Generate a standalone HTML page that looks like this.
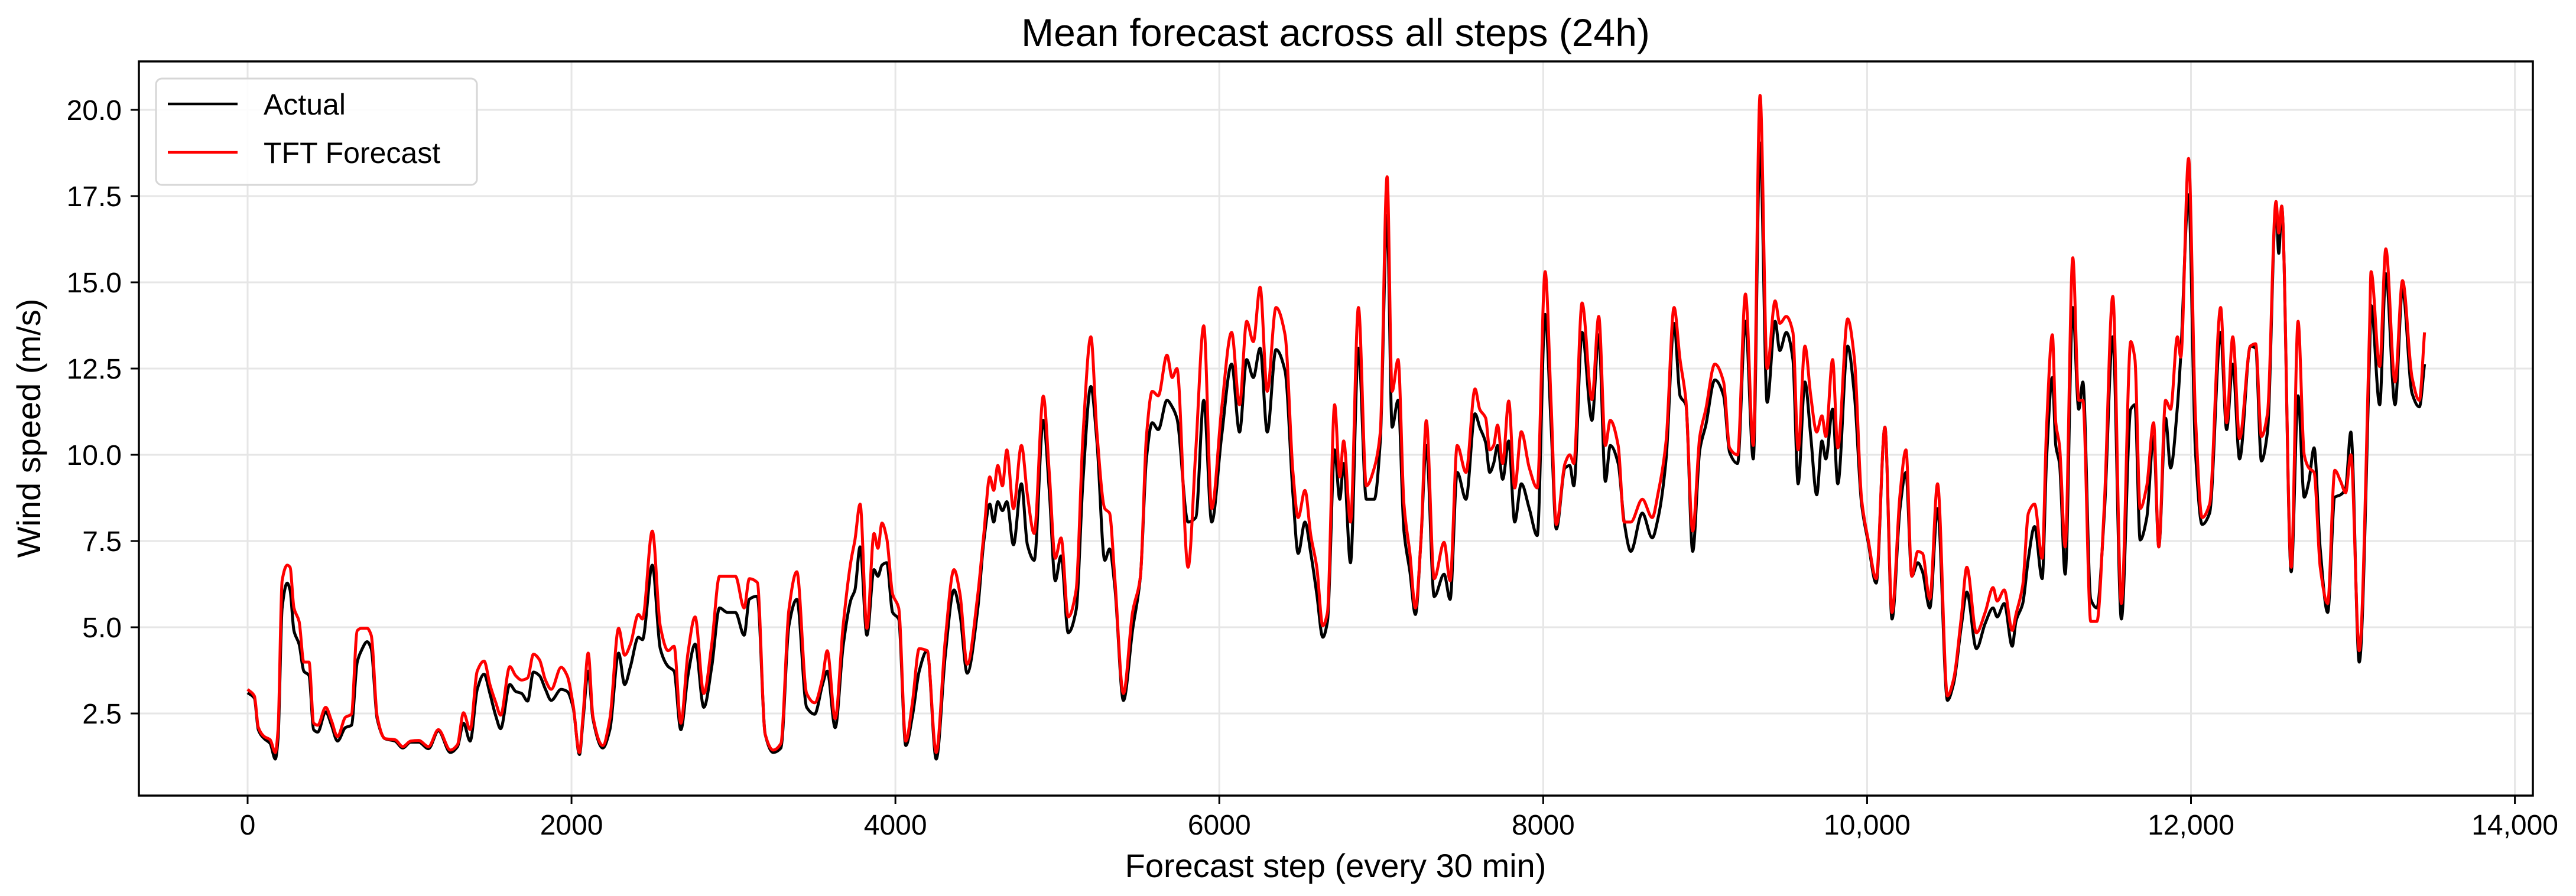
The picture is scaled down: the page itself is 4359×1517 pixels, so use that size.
<!DOCTYPE html>
<html><head><meta charset="utf-8"><style>
html,body{margin:0;padding:0;background:#fff;}
svg{display:block;font-family:"Liberation Sans",Arial,sans-serif;}
</style></head><body>
<svg id="chart" width="4359" height="1517" viewBox="0 0 4359 1517" xmlns="http://www.w3.org/2000/svg">
<rect x="0" y="0" width="4359" height="1517" fill="#fff"/>
<text x="2260" y="78" font-size="66" text-anchor="middle" fill="#000">Mean forecast across all steps (24h)</text>
<g id="grid"></g>
<g id="series"></g>
<rect x="235" y="104" width="4051" height="1243" fill="none" stroke="#000" stroke-width="3.5"/>
<g id="ticks"></g>
<text x="2260" y="1485" font-size="56" text-anchor="middle" fill="#000">Forecast step (every 30 min)</text>
<text x="0" y="0" font-size="56" text-anchor="middle" fill="#000" transform="translate(68,725) rotate(-90)">Wind speed (m/s)</text>
<g>
<rect x="264" y="133" width="543" height="180" rx="10" fill="#fff" fill-opacity="0.85" stroke="#d6d6d6" stroke-width="3"/>
<line x1="284" y1="176" x2="402" y2="176" stroke="#000" stroke-width="4.5"/>
<text x="446" y="194" font-size="50" fill="#000">Actual</text>
<line x1="284" y1="258" x2="402" y2="258" stroke="#ff0000" stroke-width="4.5"/>
<text x="446" y="276" font-size="50" fill="#000">TFT Forecast</text>
</g>
</svg>
<script>
const steps = [0,42,66,103,139,171,188,213,245,262,286,318,347,379,408,433,482,518,555,604,641,677,702,738,763,800,848,910,958,1007,1056,1117,1178,1252,1296,1333,1374,1418,1460,1496,1533,1562,1619,1655,1692,1729,1765,1802,1839,1875,1936,1973,2010,2049,2071,2103,2132,2193,2237,2291,2328,2364,2413,2438,2499,2548,2597,2633,2675,2719,2763,2817,2866,2914,2963,3012,3066,3098,3147,3196,3245,3293,3342,3391,3452,3501,3550,3579,3628,3677,3726,3750,3782,3824,3868,3892,3917,3946,3983,4020,4064,4105,4147,4196,4252,4308,4362,4399,4443,4509,4546,4583,4607,4632,4661,4688,4729,4778,4815,4857,4913,4950,4987,5023,5067,5116,5158,5207,5244,5293,5322,5354,5408,5464,5513,5550,5586,5623,5677,5709,5738,5807,5855,5904,5953,6014,6076,6125,6169,6210,6252,6296,6350,6406,6455,6487,6529,6565,6602,6639,6668,6712,6744,6768,6810,6859,6908,6957,6994,7036,7067,7104,7140,7177,7211,7245,7278,7327,7388,7425,7469,7523,7579,7608,7645,7670,7694,7718,7750,7787,7824,7865,7914,7963,8012,8049,8081,8135,8164,8189,8240,8301,8343,8384,8414,8463,8500,8541,8612,8673,8710,8759,8808,8845,8881,8923,8967,9004,9060,9114,9151,9200,9249,9297,9339,9383,9432,9461,9501,9542,9574,9616,9652,9689,9721,9745,9787,9819,9880,9922,9966,10007,10056,10110,10154,10203,10240,10276,10313,10342,10387,10435,10496,10533,10582,10616,10675,10729,10778,10803,10847,10896,10919,10961,10996,11034,11081,11108,11144,11165,11188,11223,11270,11307,11332,11381,11419,11465,11517,11570,11628,11654,11686,11727,11769,11801,11843,11874,11916,11937,11985,12027,12069,12115,12183,12220,12258,12300,12367,12399,12435,12472,12525,12542,12560,12619,12661,12699,12728,12760,12798,12844,12888,12924,12955,12987,13039,13102,13112,13165,13203,13260,13306,13365,13410,13442];
const actual = [3.10,2.94,2.03,1.77,1.63,1.18,1.77,5.56,6.28,6.08,4.9,4.51,3.73,3.6,2.03,1.96,2.55,2.16,1.70,2.09,2.16,3.99,4.32,4.58,4.38,2.35,1.77,1.70,1.5,1.67,1.67,1.48,2.0,1.37,1.54,2.22,1.70,3.2,3.64,3.08,2.42,2.06,3.34,3.14,3.08,2.86,3.70,3.6,3.2,2.88,3.2,3.14,2.68,1.31,2.29,3.73,2.35,1.5,2.03,4.25,3.34,3.86,4.71,4.64,6.8,4.38,3.86,3.73,2.03,3.6,4.51,2.68,3.86,5.56,5.43,5.43,4.77,5.81,5.9,1.9,1.37,1.5,5.04,5.81,2.68,2.48,3.34,3.73,2.09,4.45,5.81,6.08,7.33,4.77,6.67,6.48,6.8,6.87,5.43,5.24,1.57,2.42,3.73,4.32,1.18,4.19,6.08,5.37,3.67,5.56,7.5,8.57,8.05,8.64,8.38,8.64,7.39,9.16,7.39,6.94,11.0,8.97,6.35,7.07,4.84,5.50,9.23,11.98,10.4,6.94,7.27,6.22,2.88,4.91,6.48,9.88,10.93,10.73,11.58,11.39,11.06,8.05,8.18,11.58,8.05,10.53,12.63,10.66,12.76,12.24,13.09,10.66,13.05,12.43,8.84,7.14,8.05,7.14,5.96,4.71,5.17,10.14,8.71,9.75,6.87,13.09,8.71,8.71,10.4,16.95,10.8,11.58,7.79,6.61,5.37,7.5,10.27,5.89,6.54,5.81,9.49,8.71,11.19,10.8,10.34,9.49,9.75,10.27,9.29,10.4,8.05,9.16,8.44,7.66,14.07,10.8,7.85,9.62,9.69,9.1,13.55,11.0,13.48,9.23,10.27,9.75,8.05,7.2,8.31,7.59,8.18,9.88,13.81,11.71,11.45,7.2,10.14,10.86,12.17,11.71,10.07,9.75,13.87,9.88,19.04,11.52,13.87,13.02,13.55,12.76,9.16,12.11,10.53,8.84,10.4,9.88,11.32,9.16,13.15,11.71,8.57,7.46,6.28,10.8,5.24,8.44,9.49,6.48,6.87,6.61,5.56,8.44,2.88,3.34,5.04,6.02,4.38,5.11,5.56,5.3,5.69,4.45,5.17,5.69,7.0,7.92,6.41,9.88,12.24,10.27,9.75,6.54,14.27,11.32,12.11,5.81,5.56,8.31,13.42,5.24,11.32,11.45,7.53,8.18,10.53,7.33,11.06,9.62,11.39,12.89,17.54,10.14,7.98,8.31,13.55,10.73,12.63,9.88,13.15,13.09,9.82,10.66,17.21,15.84,17.21,6.61,11.71,8.77,9.23,10.2,7.27,5.43,8.77,8.84,9.03,10.66,3.99,12.76,14.33,11.45,15.25,11.45,14.79,11.78,11.39,12.63];
const forecast = [3.20,3.0,2.1,1.83,1.74,1.37,2.03,6.35,6.8,6.74,5.56,5.17,3.99,3.99,2.22,2.16,2.68,2.29,1.83,2.39,2.48,4.9,4.97,4.97,4.77,2.42,1.77,1.74,1.54,1.7,1.72,1.54,2.03,1.44,1.6,2.52,2.03,3.73,4.02,3.34,2.81,2.45,3.86,3.6,3.47,3.53,4.22,4.06,3.47,3.2,3.84,3.6,2.75,1.37,2.42,4.25,2.42,1.57,2.35,4.97,4.19,4.51,5.37,5.24,7.79,5.03,4.32,4.45,2.22,4.25,5.3,3.08,4.51,6.48,6.48,6.48,5.56,6.41,6.3,1.9,1.44,1.63,5.5,6.61,3.08,2.81,3.53,4.32,2.35,5.04,6.94,7.53,8.57,4.97,7.72,7.29,8.02,7.59,5.96,5.56,1.7,2.81,4.38,4.32,1.37,4.64,6.67,5.96,3.93,5.96,7.7,9.36,8.97,9.69,9.1,10.14,8.44,10.27,8.84,7.72,11.7,9.49,7.0,7.59,5.30,6.08,10.53,13.42,10.66,8.44,8.31,6.48,3.08,5.43,6.48,10.53,11.84,11.71,12.89,12.24,12.5,6.74,10.14,13.74,8.44,11.32,13.55,11.45,13.87,13.28,14.86,11.84,14.27,13.48,9.49,8.18,8.97,7.66,6.74,5.04,5.43,11.45,9.36,10.4,8.05,14.27,9.1,9.62,10.66,18.06,11.84,12.76,8.57,7.14,5.56,7.5,10.99,6.41,7.46,6.35,10.27,9.49,11.91,11.32,11.06,10.14,10.27,10.86,9.75,11.56,9.04,10.67,9.62,9.04,15.31,11.45,7.98,9.75,10.0,9.75,14.4,11.6,14.01,10.27,11.0,10.27,8.05,8.05,8.71,8.18,8.9,10.4,14.27,12.76,11.58,7.79,10.53,11.32,12.63,12.11,10.2,10.0,14.66,10.27,20.42,12.5,14.46,13.81,14.01,13.55,10.14,13.15,11.71,10.66,11.13,10.53,12.76,10.2,13.94,12.76,8.71,7.53,6.41,10.8,5.43,8.84,10.14,6.48,7.2,7.14,5.82,9.16,3.01,3.47,5.3,6.74,4.84,5.43,6.15,5.76,6.08,4.91,5.37,6.22,8.31,8.57,7.0,10.8,13.48,10.93,10.27,7.33,15.71,11.58,11.58,5.17,5.17,8.57,14.59,5.69,13.28,12.76,8.44,9.1,10.93,7.33,11.58,11.32,13.42,12.83,18.59,11.19,8.18,8.57,14.27,10.93,13.42,10.47,13.15,13.22,10.53,11.19,17.34,16.43,17.21,6.74,13.87,10.0,9.62,9.49,6.74,5.69,9.55,9.23,8.9,10.0,4.32,13.55,15.31,12.56,15.97,12.11,15.05,12.24,11.58,13.55];
const xTicks = [0,2000,4000,6000,8000,10000,12000,14000];
const xTickLabels = ["0","2000","4000","6000","8000","10,000","12,000","14,000"];
const yTicks = [2.5,5.0,7.5,10.0,12.5,15.0,17.5,20.0];
const yTickLabels = ["2.5","5.0","7.5","10.0","12.5","15.0","17.5","20.0"];

const NS = "http://www.w3.org/2000/svg";
function xScale(s){ return 419 + s * (3836.6 / 14000); }
function yScale(v){ return 1208 - (v - 2.5) * 58.4; }
const grid = document.getElementById('grid');
const ticks = document.getElementById('ticks');
const series = document.getElementById('series');

xTicks.forEach((t, i) => {
  const x = xScale(t);
  const gl = document.createElementNS(NS, 'line');
  
  
  gl.setAttribute('x1', x); gl.setAttribute('x2', x);
  gl.setAttribute('y1', 104); gl.setAttribute('y2', 1347);
  gl.setAttribute('stroke', '#e6e6e6'); gl.setAttribute('stroke-width', '3');
  grid.appendChild(gl);
  const tk = document.createElementNS(NS, 'line');
  
  
  tk.setAttribute('x1', x); tk.setAttribute('x2', x);
  tk.setAttribute('y1', 1347); tk.setAttribute('y2', 1361);
  tk.setAttribute('stroke', '#000'); tk.setAttribute('stroke-width', '3');
  ticks.appendChild(tk);
  const tl = document.createElementNS(NS, 'text');
  
  
  tl.setAttribute('x', x); tl.setAttribute('y', 1413);
  tl.setAttribute('font-size', '48'); tl.setAttribute('text-anchor', 'middle');
  tl.textContent = xTickLabels[i];
  ticks.appendChild(tl);
});
yTicks.forEach((t, i) => {
  const y = yScale(t);
  const gl = document.createElementNS(NS, 'line');
  
  
  gl.setAttribute('x1', 235); gl.setAttribute('x2', 4286);
  gl.setAttribute('y1', y); gl.setAttribute('y2', y);
  gl.setAttribute('stroke', '#e6e6e6'); gl.setAttribute('stroke-width', '3');
  grid.appendChild(gl);
  const tk = document.createElementNS(NS, 'line');
  
  
  tk.setAttribute('x1', 221); tk.setAttribute('x2', 235);
  tk.setAttribute('y1', y); tk.setAttribute('y2', y);
  tk.setAttribute('stroke', '#000'); tk.setAttribute('stroke-width', '3');
  ticks.appendChild(tk);
  const tl = document.createElementNS(NS, 'text');
  
  
  tl.setAttribute('x', 206); tl.setAttribute('y', y + 17);
  tl.setAttribute('font-size', '48'); tl.setAttribute('text-anchor', 'end');
  tl.textContent = yTickLabels[i];
  ticks.appendChild(tl);
});

// monotone cubic (Fritsch-Carlson) path, no overshoot
function pathFor(vals){
  const xs = steps.map(xScale), ys = vals.map(yScale), n = xs.length;
  const d = [], m = new Array(n);
  for (let i = 0; i < n - 1; i++) d.push((ys[i+1] - ys[i]) / (xs[i+1] - xs[i]));
  m[0] = d[0]; m[n-1] = d[n-2];
  for (let i = 1; i < n - 1; i++) {
    if (d[i-1] * d[i] <= 0) m[i] = 0;
    else {
      const h0 = xs[i] - xs[i-1], h1 = xs[i+1] - xs[i];
      const w1 = 2*h1 + h0, w2 = h1 + 2*h0;
      m[i] = (w1 + w2) / (w1 / d[i-1] + w2 / d[i]);
    }
  }
  let p = 'M' + xs[0].toFixed(1) + ' ' + ys[0].toFixed(1);
  for (let i = 0; i < n - 1; i++) {
    const h = (xs[i+1] - xs[i]) / 3;
    p += ' C' + (xs[i] + h).toFixed(1) + ' ' + (ys[i] + m[i]*h).toFixed(1) + ' ' +
         (xs[i+1] - h).toFixed(1) + ' ' + (ys[i+1] - m[i+1]*h).toFixed(1) + ' ' +
         xs[i+1].toFixed(1) + ' ' + ys[i+1].toFixed(1);
  }
  return p;
}
const pa = document.createElementNS(NS, 'path');


pa.setAttribute('d', pathFor(actual));
pa.setAttribute('fill', 'none'); pa.setAttribute('stroke', '#000');
pa.setAttribute('stroke-width', '5'); pa.setAttribute('stroke-linejoin', 'round');
series.appendChild(pa);
const pf = document.createElementNS(NS, 'path');


pf.setAttribute('d', pathFor(forecast));
pf.setAttribute('fill', 'none'); pf.setAttribute('stroke', '#ff0000');
pf.setAttribute('stroke-width', '5'); pf.setAttribute('stroke-linejoin', 'round');
series.appendChild(pf);
</script>
</body></html>
